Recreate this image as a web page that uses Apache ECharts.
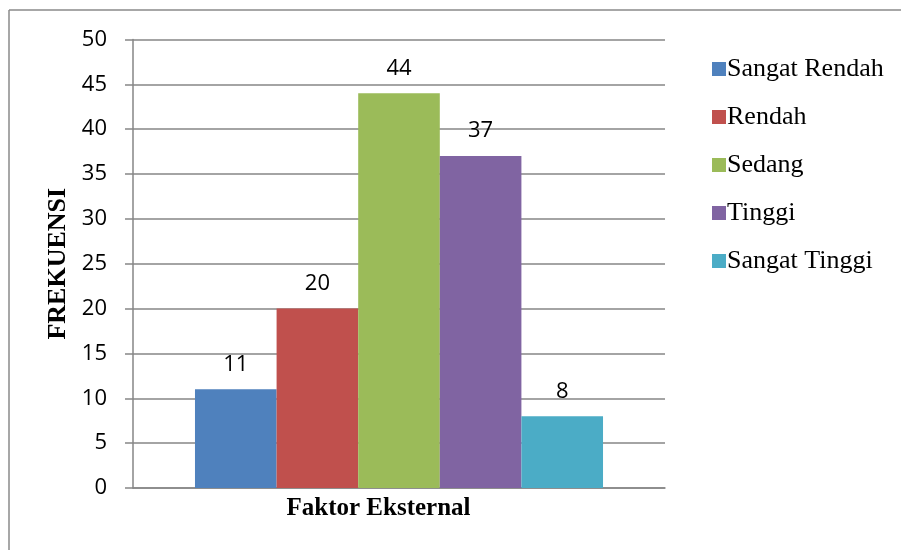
<!DOCTYPE html>
<html>
<head>
<meta charset="utf-8">
<script src="https://cdn.jsdelivr.net/npm/echarts@6/dist/echarts.min.js"></script>
<style>
  html, body { margin: 0; padding: 0; background: #fff; }
  #chart { width: 901px; height: 550px; }
</style>
</head>
<body>
<div id="chart"></div>
<script>
const categories = ['Faktor Eksternal'];
const seriesNames = ['Sangat Rendah', 'Rendah', 'Sedang', 'Tinggi', 'Sangat Tinggi'];
const values = [11, 20, 44, 37, 8];
const colors = ['#4F81BD', '#C0504D', '#9BBB59', '#8064A2', '#4BACC6'];
const yTicks = { min: 0, max: 50, interval: 5 };

const chart = echarts.init(document.getElementById('chart'));

const series = seriesNames.map((name, i) => ({
  name: name,
  type: 'bar',
  data: [values[i]],
  barGap: '0%',
  barCategoryGap: '23.3%',
  itemStyle: { color: colors[i] },
  label: {
    show: true,
    position: 'top',
    distance: 14,
    color: '#000',
    fontFamily: 'Open Sans',
    fontSize: 22,
  },
}));

const option = {
  backgroundColor: '#fff',
  animation: false,
  grid: {
    left: 133,
    top: 39.5,
    right: 236,
    height: 448.5,
  },
  legend: {
    orient: 'vertical',
    left: 707,
    top: 51,
    itemWidth: 14,
    itemHeight: 14,
    itemGap: 22,
    icon: 'rect',
    textStyle: {
      fontFamily: 'Liberation Serif',
      fontSize: 26,
      color: '#000',
      lineHeight: 22,
      padding: [0, 0, 0, -4],
    },
    data: seriesNames,
  },
  xAxis: {
    type: 'category',
    data: categories,
    axisLine: { lineStyle: { color: '#868686', width: 1.5 } },
    axisTick: { show: false },
    axisLabel: {
      fontFamily: 'Liberation Serif',
      fontWeight: 'bold',
      fontSize: 25,
      color: '#000',
      margin: 8,
      padding: [0, 41, 0, 0],
    },
  },
  yAxis: {
    type: 'value',
    min: yTicks.min,
    max: yTicks.max,
    interval: yTicks.interval,
    name: 'FREKUENSI',
    nameLocation: 'middle',
    nameGap: 61,
    nameTextStyle: {
      fontFamily: 'Liberation Serif',
      fontWeight: 'bold',
      fontSize: 26,
      color: '#000',
    },
    axisLine: { show: true, lineStyle: { color: '#868686', width: 1.5 } },
    axisTick: { show: true, length: 8, lineStyle: { color: '#868686', width: 1.5 } },
    axisLabel: {
      fontFamily: 'Open Sans',
      fontSize: 22,
      color: '#000',
      margin: 26,
    },
    splitLine: { lineStyle: { color: '#868686', width: 1.5 } },
  },
  series: series,
  graphic: [
    { type: 'line', shape: { x1: 9, y1: 10, x2: 901, y2: 10 }, style: { stroke: '#8a8a8a', lineWidth: 1.5 } },
    { type: 'line', shape: { x1: 9, y1: 10, x2: 9, y2: 550 }, style: { stroke: '#8a8a8a', lineWidth: 1.5 } },
  ],
};

chart.setOption(option);
</script>
</body>
</html>
